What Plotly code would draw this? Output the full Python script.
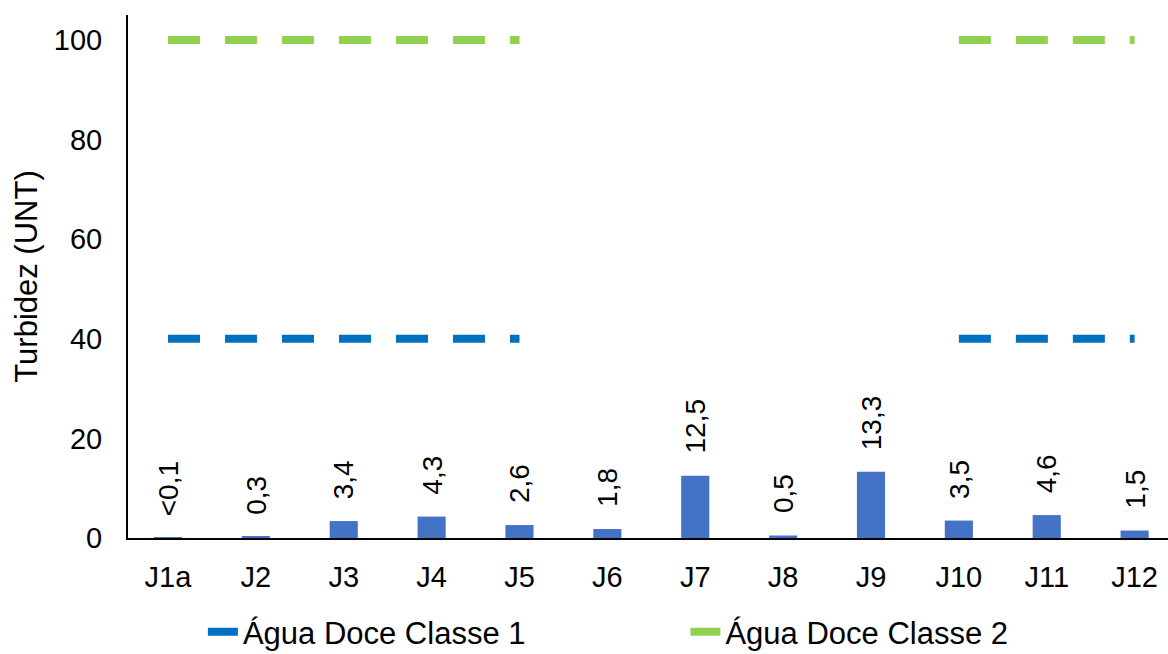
import plotly.graph_objects as go

categories = ["J1a", "J2", "J3", "J4", "J5", "J6", "J7", "J8", "J9", "J10", "J11", "J12"]
turbidez = [0.05, 0.3, 3.4, 4.3, 2.6, 1.8, 12.5, 0.5, 13.3, 3.5, 4.6, 1.5]
labels = ["<0,1", "0,3", "3,4", "4,3", "2,6", "1,8", "12,5", "0,5", "13,3", "3,5", "4,6", "1,5"]
classe1 = [40, 40, 40, 40, 40, None, None, None, None, 40, 40, 40]
classe2 = [100, 100, 100, 100, 100, None, None, None, None, 100, 100, 100]

FONT = "Liberation Sans, Arial, sans-serif"

fig = go.Figure()
fig.add_trace(go.Bar(
    x=categories, y=turbidez, marker_color="#4472C4", showlegend=False,
    marker_line_width=0,
))
fig.add_trace(go.Scatter(
    x=categories, y=classe1, mode="lines", name="Água Doce Classe 1",
    line=dict(color="#0070C0", width=8, dash="32px,25px"), connectgaps=False,
    legend="legend",
))
fig.add_trace(go.Scatter(
    x=categories, y=classe2, mode="lines", name="Água Doce Classe 2",
    line=dict(color="#92D050", width=8, dash="32px,25px"), connectgaps=False,
    legend="legend2",
))

for c, v, t in zip(categories, turbidez, labels):
    fig.add_annotation(
        x=c, y=v, text=t, textangle=-90, showarrow=False,
        xanchor="center", yanchor="bottom", yshift=20,
        font=dict(size=28, color="#000000", family=FONT),
    )

fig.update_layout(
    width=1168, height=654,
    margin=dict(l=128, r=0, t=15, b=116, autoexpand=False),
    plot_bgcolor="white", paper_bgcolor="white",
    font=dict(family=FONT, size=29, color="#000000"),
    bargap=0.68,
    legend=dict(orientation="h", x=0.072, xanchor="left", y=-0.18, yanchor="middle",
                font=dict(size=31)),
    legend2=dict(orientation="h", x=0.536, xanchor="left", y=-0.18, yanchor="middle",
                 font=dict(size=31)),
)
fig.update_xaxes(
    range=[-0.455, 11.38], showline=True, linecolor="#000000", linewidth=2,
    showgrid=False, ticks="", tickfont=dict(size=29), ticklabelstandoff=12,
    automargin=False,
)
fig.update_yaxes(
    range=[0, 105], tickvals=[0, 20, 40, 60, 80, 100], showline=True,
    linecolor="#000000", linewidth=2, showgrid=False, ticks="",
    title=dict(text="Turbidez (UNT)", font=dict(size=31), standoff=7),
    tickfont=dict(size=29), zeroline=False, ticklabelstandoff=18,
    automargin=False,
)

fig.write_html(
    "out.html",
    config={"displayModeBar": False},
    post_script="document.body.style.margin='0';document.body.style.overflow='hidden';",
)
